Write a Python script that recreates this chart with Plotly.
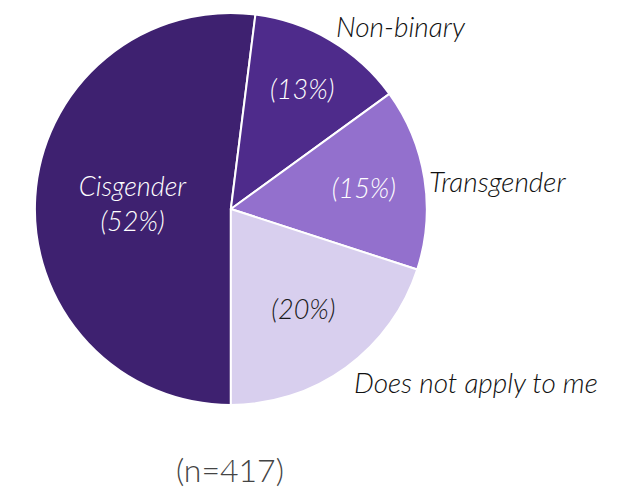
import plotly.graph_objects as go

categories = ["Cisgender", "Non-binary", "Transgender", "Does not apply to me"]
values = [52, 13, 15, 20]
colors = ["#3e2170", "#4e2b8b", "#9370cd", "#d8cfee"]
inside_labels = ["Cisgender<br>(52%)", "(13%)", "(15%)", "(20%)"]
inside_colors = ["white", "white", "white", "#1a1a1a"]
n_label = "(n=417)"

FONT = "Lato"

fig = go.Figure()
fig.add_trace(go.Pie(
    labels=categories,
    values=values,
    text=inside_labels,
    textinfo="text",
    textposition="inside",
    insidetextorientation="horizontal",
    insidetextfont=dict(family=FONT, size=27, color=inside_colors, style="italic", weight=300),
    marker=dict(colors=colors, line=dict(color="white", width=2)),
    sort=False,
    direction="clockwise",
    rotation=180,
    showlegend=False,
    hoverinfo="label+percent",
    domain=dict(x=[0.043, 0.669], y=[0.206, 0.99]),
))

outside = [
    ("Non-binary", 0.521, 0.964),
    ("Transgender", 0.670, 0.654),
    ("Does not apply to me", 0.550, 0.252),
]
for txt, x, y in outside:
    fig.add_annotation(text=txt, x=x, y=y, xref="paper", yref="paper",
                       xanchor="left", yanchor="middle", showarrow=False,
                       font=dict(family=FONT, size=28, color="#111", style="italic", weight=300))

fig.add_annotation(text=n_label, x=0.354, y=0.078, xref="paper", yref="paper",
                   xanchor="center", yanchor="middle", showarrow=False,
                   font=dict(family=FONT, size=32, color="#444", weight=300))

fig.update_layout(width=626, height=500, margin=dict(l=0, r=0, t=0, b=0),
                  paper_bgcolor="white", plot_bgcolor="white")
fig.write_html("out.html")
